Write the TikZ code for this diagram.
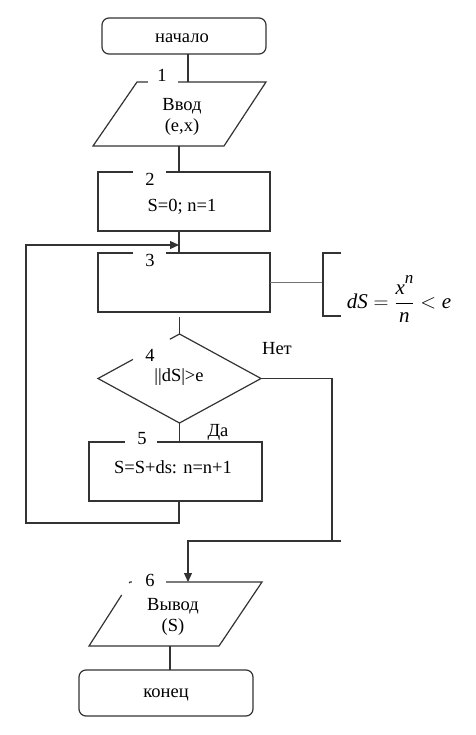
\documentclass[tikz,border=0pt]{standalone}
\usepackage{fontspec}
\usepackage{amsmath}
\setmainfont{Liberation Serif}
\usetikzlibrary{arrows.meta,shapes.geometric,calc}
\begin{document}
\begin{tikzpicture}[x=1pt,y=-1pt,
  ln/.style={draw=black!80, line width=1.2pt},
  thin/.style={draw=black!55, line width=0.8pt},
  txt/.style={inner sep=0pt, font=\fontsize{18.5}{20.5}\selectfont, align=center},
  num/.style={inner sep=0pt, font=\fontsize{18.5}{20}\selectfont},
  term/.style={ln, rectangle, rounded corners=7pt, inner sep=0pt, outer sep=0pt},
  proc/.style={ln, rectangle, inner sep=0pt, outer sep=0pt},
  cover/.style={draw=white, line width=3.5pt},
  arr/.style={ln, -{Triangle[length=9pt,width=8pt]}}
]
\useasboundingbox (0,0) rectangle (475,735);

% ---- shapes ----
\node[term, minimum width=164pt, minimum height=36pt] (n0) at (184,36) {};
\node[txt] (n0t) at (182,38) {начало};

% parallelogram 1
\coordinate (p1a) at (137,82);
\coordinate (p1b) at (266,82);
\coordinate (p1c) at (224,146);
\coordinate (p1d) at (93,146);
\draw[ln, line join=miter] (p1a) -- (p1b) -- (p1c) -- (p1d) -- cycle;
\coordinate (p1top) at (188,82);
\coordinate (p1bot) at (179,146);
\node[txt] (p1t) at (182,117) {Ввод\\(e,x)};

\node[proc, minimum width=172pt, minimum height=59pt] (b2) at (184,201.5) {};
\node[txt] (b2t) at (182,207) {S=0; n=1};

\node[proc, minimum width=172pt, minimum height=59pt] (b3) at (184,282.5) {};

\node[ln, diamond, minimum width=163pt, minimum height=89pt, inner sep=0pt, outer sep=0pt] (d4) at (179.5,378.5) {};
\node[txt] (d4t) at (179,377) {||dS|>e};

\node[proc, minimum width=173pt, minimum height=59pt] (b5) at (175.5,471.5) {};
\node[txt] (b5t) at (173,467) {S=S+ds: n=n+1};

% parallelogram 6
\coordinate (p6a) at (130,582);
\coordinate (p6b) at (262,582);
\coordinate (p6c) at (219,646);
\coordinate (p6d) at (89,646);
\draw[ln, line join=miter] (p6a) -- (p6b) -- (p6c) -- (p6d) -- cycle;
\coordinate (p6top) at (188,582);
\coordinate (p6bot) at (170,646);
\node[txt] (p6t) at (173,617) {Вывод\\(S)};

\node[term, minimum width=174pt, minimum height=46pt] (k) at (166,693) {};
\node[txt] (kt) at (166,695) {конец};

% ---- gaps for numbers ----
\draw[cover] (148,82) -- (178,82);
\draw[cover] (133,172) -- (166,172);
\draw[cover] (133,253) -- (166,253);
\draw[cover] ($(d4.west)!0.43!(d4.north)$) -- ($(d4.west)!0.88!(d4.north)$);
\draw[cover] (125,442) -- (157,442);
\draw[cover] (132,582) -- (166,582);
\draw[cover] ($(p6a)!0.02!(p6d)$) -- ($(p6a)!0.2!(p6d)$);

\node[num] (l1) at (162,75) {1};
\node[num] (l2) at (150,179) {2};
\node[num] (l3) at (150,260) {3};
\node[num] (l4) at (150,355) {4};
\node[num] (l5) at (142,439) {5};
\node[num] (l6) at (150,580) {6};

% ---- connectors ----
\coordinate (merge) at (179,245);
\coordinate (loopL) at (26,523);
\coordinate (nj) at (332,541);
\coordinate (nr) at (341,541);

\draw[ln] (n0.south -| p1top) -- (p1top);
\draw[ln] (p1bot) -- (p1bot |- b2.north);
\draw[ln] (b2.south -| merge) -- (b3.north -| merge);
\draw[arr] (b5.south -| merge) |- (loopL) |- (merge);
\draw[ln] ($(b3.south -| d4.north)+(0,5)$) -- (d4.north);
\draw[ln] (d4.south) -- (d4.south |- b5.north);
\draw[ln] (d4.east) -| (nj);
\draw[arr] (nr) -| (p6top);
\draw[ln] (p6bot) -- (p6bot |- k.north);

% annotation bracket
\coordinate (brk) at (323,282.5);
\draw[thin] (b3.east) -- (brk);
\draw[ln] (341,253) -- (323,253) -- (323,316) -- (341,316);
\node[inner sep=0pt, font=\fontsize{21}{24}\selectfont] (f) at (399,299)
  {$\textit{dS} = \dfrac{\textit{x}\raisebox{0.5em}{\fontsize{17}{18}\itshape n}}{\textit{n}} < \textit{e}$};

% branch labels
\node[txt] (no) at (277,349) {Нет};
\node[txt] (yes) at (218,432) {Да};
\end{tikzpicture}
\end{document}
